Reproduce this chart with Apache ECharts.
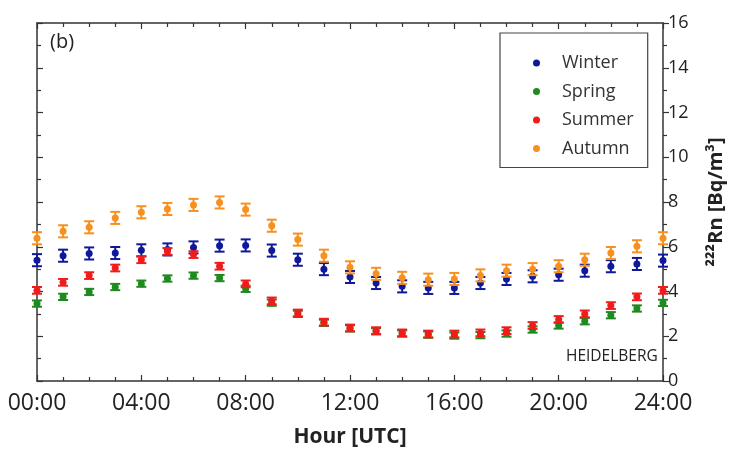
<!DOCTYPE html>
<html><head><meta charset="utf-8">
<script src="https://cdn.jsdelivr.net/npm/echarts@6/dist/echarts.min.js"></script>
<style>html,body{margin:0;padding:0;background:#fff}#c{width:738px;height:450px}</style>
</head><body><div id="c"></div>
<script>
const hours = [0,1,2,3,4,5,6,7,8,9,10,11,12,13,14,15,16,17,18,19,20,21,22,23,24];
const xTickLabels = ['00:00','04:00','08:00','12:00','16:00','20:00','24:00'];
const seasons = ['Winter','Spring','Summer','Autumn'];
const seasonColors = ['#10189a','#1f8a1f','#f01c1c','#f7901e'];
const winter = [5.4,5.6,5.7,5.72,5.84,5.88,5.97,6.05,6.06,5.83,5.42,5.0,4.65,4.38,4.23,4.16,4.16,4.38,4.56,4.68,4.75,4.93,5.13,5.23,5.38];
const spring = [3.46,3.76,3.98,4.2,4.35,4.58,4.71,4.6,4.12,3.5,3.0,2.6,2.35,2.22,2.12,2.07,2.03,2.05,2.12,2.3,2.48,2.67,2.94,3.24,3.49];
const summer = [4.05,4.41,4.71,5.05,5.42,5.79,5.65,5.13,4.34,3.58,3.04,2.63,2.37,2.25,2.15,2.1,2.1,2.15,2.25,2.48,2.75,3.0,3.37,3.76,4.05];
const autumn = [6.38,6.69,6.87,7.29,7.54,7.69,7.87,7.98,7.66,6.94,6.32,5.6,5.08,4.79,4.61,4.53,4.56,4.72,4.93,5.0,5.13,5.42,5.72,6.02,6.38];
const errHalf = [0.27,0.14,0.15,0.27];
const seasonValues = [winter, spring, summer, autumn];
const drawOrder = [3,0,1,2];

const FONT = 'Open Sans';
const chart = echarts.init(document.getElementById('c'), null, {renderer:'canvas'});

const series = [];
drawOrder.forEach(function(si){
  const col = seasonColors[si];
  series.push({
    name: seasons[si], type: 'custom', xAxisIndex: 0, yAxisIndex: 0, z: 2 + si,
    itemStyle: {color: col},
    data: hours.map(function(h, i){ return [h, seasonValues[si][i], errHalf[si]]; }),
    renderItem: function(params, api){
      const x = api.value(0), y = api.value(1), e = api.value(2);
      const t = api.coord([x, y + e]), b = api.coord([x, y - e]);
      const hw = 5;
      const st = {stroke: col, lineWidth: 2};
      return {type: 'group', children: [
        {type:'line', shape:{x1:t[0],y1:t[1],x2:b[0],y2:b[1]}, style: st},
        {type:'line', shape:{x1:t[0]-hw,y1:t[1],x2:t[0]+hw,y2:t[1]}, style: st},
        {type:'line', shape:{x1:b[0]-hw,y1:b[1],x2:b[0]+hw,y2:b[1]}, style: st}
      ]};
    },
    silent: true
  });
  series.push({
    name: seasons[si], type: 'scatter', xAxisIndex: 0, yAxisIndex: 0, z: 2 + si,
    symbol: 'circle', symbolSize: 7,
    itemStyle: {color: col, opacity: 1},
    data: hours.map(function(h, i){ return [h, seasonValues[si][i]]; })
  });
});

const axisLineStyle = {color: '#333', width: 1.5};
const option = {
  animation: false,
  backgroundColor: '#fff',
  grid: {left: 37, right: 75, top: 23, bottom: 69, containLabel: false, outerBoundsMode: 'none'},
  xAxis: [{
    type: 'value', position: 'bottom', min: 0, max: 24, interval: 4,
    axisLine: {show: true, onZero: false, lineStyle: axisLineStyle},
    axisTick: {show: true, inside: true, length: 6, lineStyle: {color: '#333', width: 1.2}},
    minorTick: {show: true, splitNumber: 4, length: 4, lineStyle: {color: '#333', width: 1.2}},
    splitLine: {show: false},
    axisLabel: {fontFamily: FONT, fontSize: 23, color: '#222', margin: 11,
      formatter: function(v){ return xTickLabels[Math.round(v / 4)]; }},
    name: 'Hour [UTC]', nameLocation: 'middle', nameGap: 46,
    nameTextStyle: {fontFamily: FONT, fontSize: 21, fontWeight: 'bold', color: '#222'}
  }, {
    type: 'value', position: 'top', min: 0, max: 24, interval: 4,
    axisLine: {show: true, onZero: false, lineStyle: axisLineStyle},
    axisTick: {show: true, inside: true, length: 6, lineStyle: {color: '#333', width: 1.2}},
    minorTick: {show: true, splitNumber: 4, length: 4, lineStyle: {color: '#333', width: 1.2}},
    splitLine: {show: false},
    axisLabel: {show: false}
  }],
  yAxis: [{
    type: 'value', position: 'right', min: 0, max: 16, interval: 2,
    axisLine: {show: true, onZero: false, lineStyle: axisLineStyle},
    axisTick: {show: true, inside: false, length: 6, lineStyle: {color: '#333', width: 1.2}},
    minorTick: {show: true, splitNumber: 2, length: 4, lineStyle: {color: '#333', width: 1.2}},
    splitLine: {show: false},
    axisLabel: {fontFamily: FONT, fontSize: 18, color: '#222', margin: 5},
    name: '²²²Rn [Bq/m³]', nameLocation: 'middle', nameRotate: 90, nameGap: 43,
    nameTextStyle: {fontFamily: FONT, fontSize: 20, fontWeight: 'bold', color: '#222'}
  }, {
    type: 'value', position: 'left', min: 0, max: 16, interval: 2,
    axisLine: {show: true, onZero: false, lineStyle: axisLineStyle},
    axisTick: {show: true, inside: true, length: 6, lineStyle: {color: '#333', width: 1.2}},
    minorTick: {show: true, splitNumber: 2, length: 4, lineStyle: {color: '#333', width: 1.2}},
    splitLine: {show: false},
    axisLabel: {show: false}
  }],
  legend: {
    data: seasons.map(function(s){ return {name: s, icon: 'circle'}; }),
    orient: 'vertical', left: 500, top: 33,
    borderColor: '#444', borderWidth: 1.2, borderRadius: 0,
    padding: [20, 14, 9, 33], itemGap: 8.5, itemWidth: 7, itemHeight: 7,
    textStyle: {fontFamily: FONT, fontSize: 18, color: '#333', padding: [0, 0, 0, 17], lineHeight: 20},
    selectedMode: false
  },
  graphic: [
    {type: 'text', left: 50, top: 32, style: {text: '(b)', fontFamily: FONT, fontSize: 20, fill: '#222'}},
    {type: 'text', left: 566, top: 349, style: {text: 'HEIDELBERG', fontFamily: FONT, fontSize: 15.5, fill: '#222'}}
  ],
  series: series
};
chart.setOption(option);
</script>
</body></html>
